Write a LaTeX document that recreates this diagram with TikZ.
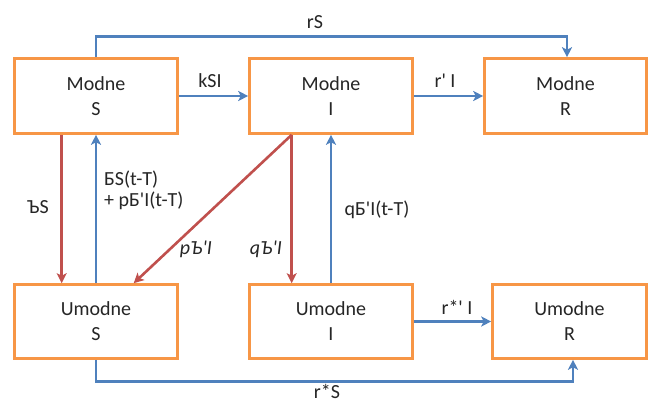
\documentclass[tikz,border=0pt]{standalone}
\usepackage{fontspec}
\setmainfont{Carlito}[Ligatures=TeXOff]
\usetikzlibrary{arrows.meta}
\definecolor{boxorange}{RGB}{247,150,70}
\definecolor{arrblue}{RGB}{79,129,189}
\definecolor{arrred}{RGB}{192,80,77}
\begin{document}
\begin{tikzpicture}[x=1pt,y=-1pt,
  box/.style={draw=boxorange, line width=2.6pt, fill=white, minimum width=163pt, minimum height=75pt,
    align=center, font=\fontsize{20}{25}\selectfont, text=black!85},
  lbl/.style={font=\fontsize{20}{21}\selectfont, text=black!85, inner sep=0pt},
  bluearr/.style={draw=arrblue, line width=2.6pt, -{Stealth[length=10pt,width=10pt,inset=2.5pt]}},
  redarr/.style={draw=arrred, line width=2.6pt, -{Stealth[length=10pt,width=10pt,inset=2.5pt]}}]
\useasboundingbox[fill=white] (0,0) rectangle (649,401);
% boxes
\node[box] (ms) at (96,96) {Modne\\S};
\node[box] (mi) at (331,96) {Modne\\I};
\node[box, minimum width=162pt] (mr) at (565.5,96) {Modne\\R};
\node[box, minimum height=74pt] (us) at (96,321.5) {Umodne\\S};
\node[box, minimum height=74pt] (ui) at (331,321.5) {Umodne\\I};
\node[box, minimum height=74pt, minimum width=154pt] (ur) at (569.5,321.5) {Umodne\\R};
% top connectors
\draw[bluearr] (ms.north) -- ++(0,-20.5) -| ([xshift=1.5pt]mr.north);
\draw[bluearr] (ms.east) -- (mi.west);
\draw[bluearr] (mi.east) -- (mr.west);
% left verticals
\draw[redarr] ([xshift=48.5pt]ms.south west) -- ([xshift=48.5pt]us.north west);
\draw[bluearr] (us.north) -- (ms.south);
% middle
\draw[redarr] ([xshift=43.5pt]mi.south west) -- ([xshift=120.5pt]us.north west);
\draw[redarr] ([xshift=43.5pt]mi.south west) -- ([xshift=43.5pt]ui.north west);
\draw[bluearr] (ui.north) -- (mi.south);
% bottom connectors
\draw[bluearr] (ui.east) -- (ur.west);
\draw[bluearr] (us.south) -- ++(0,21.5) -| ([xshift=3.5pt]ur.south);
% labels
\node[lbl] (lrs) at (315,22) {rS};
\node[lbl] (lksi) at (210,81) {kSI};
\node[lbl] (lri) at (445,81) {r' I};
\node[lbl] (lbs) at (38,207) {ЪS};
\node[lbl, anchor=west, align=left] (lbst) at (104,190) {БS(t-T)\\+ pБ'I(t-T)};
\node[lbl] (lpb) at (196,249) {\itshape pЪ'I};
\node[lbl] (lqb) at (266,249) {\itshape qЪ'I};
\node[lbl] (lqbt) at (377,210) {qБ'I(t-T)};
\node[lbl] (lrsi) at (457,307) {r*' I};
\node[lbl] (lrss) at (327,391) {r*S};
\end{tikzpicture}
\end{document}
